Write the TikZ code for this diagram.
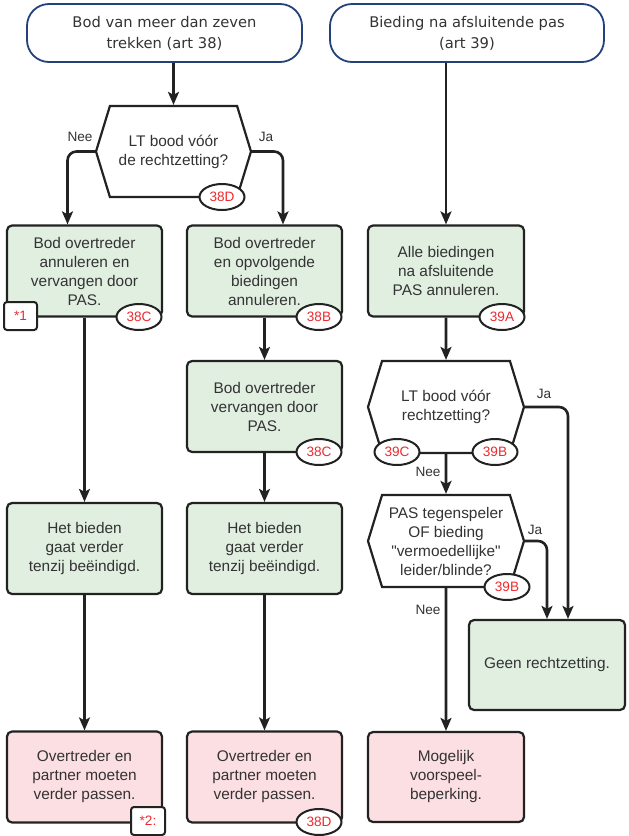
\documentclass[tikz,border=0pt]{standalone}
\usepackage{fontspec}
\setmainfont{Liberation Sans}
\newfontfamily\termfont{DejaVu Sans}
\usepackage{tikz}
\usetikzlibrary{arrows.meta, shapes.geometric, shapes.symbols, positioning}
\definecolor{framegray}{HTML}{222222}
\definecolor{inkgray}{HTML}{333333}
\definecolor{termblue}{HTML}{23427A}
\definecolor{boxgreen}{HTML}{E1EFE1}
\definecolor{boxpink}{HTML}{FCDFE2}
\definecolor{refred}{HTML}{EE2A2E}

\begin{document}
\begin{tikzpicture}[x=1pt, y=-1pt,
    every node/.style={text=inkgray, align=center},
    txt/.style={font=\fontsize{15.4}{19}\selectfont},
    term/.style={draw=termblue, line width=1.8pt, fill=white, rounded corners=22pt,
        minimum width=275pt, minimum height=58pt, font=\termfont\fontsize{14.7}{21}\selectfont},
    act/.style={txt, draw=framegray, line width=2.2pt, fill=boxgreen, rounded corners=5pt,
        minimum width=155pt, minimum height=91pt, inner sep=0pt},
    stop/.style={act, fill=boxpink},
    ask/.style={txt, shape=signal, signal to=east and west, signal pointer angle=146,
        draw=framegray, line width=2.2pt, fill=white, minimum width=155pt, minimum height=91pt, inner sep=0pt},
    ref/.style={ellipse, draw=framegray, line width=2pt, fill=white, text=refred,
        minimum width=45pt, minimum height=26pt, inner sep=0pt, font=\fontsize{13.6}{16}\selectfont},
    note/.style={ref, rectangle, rounded corners=3pt, minimum width=33pt, minimum height=28pt},
    lbl/.style={font=\fontsize{13.6}{16}\selectfont},
    arr/.style={draw=framegray, line width=2.6pt, rounded corners=9pt,
        -{Stealth[length=13pt,width=11pt,inset=3pt]}},
]
\useasboundingbox (0,0) rectangle (629,836);

% start boxes
\node[term] (t1) at (164.5,33) {Bod van meer dan zeven\\trekken (art 38)};
\node[term, minimum width=274pt] (t2) at (467,33) {Bieding na afsluitende pas\\(art 39)};

% art 38
\node[ask] (q1) at (173.5,151.5) {LT bood vóór\\de rechtzetting?};
\node[act] (b1) at (84.5,271) {Bod overtreder\\annuleren en\\vervangen door\\PAS.};
\node[act] (b2) at (264.5,271) {Bod overtreder\\en opvolgende\\biedingen\\annuleren.};
\node[act] (b3) at (264.5,406.5) {Bod overtreder\\vervangen door\\PAS.};
\node[act] (b4) at (84.5,548.5) {Het bieden\\gaat verder\\tenzij beëindigd.};
\node[act] (b5) at (264.5,548.5) {Het bieden\\gaat verder\\tenzij beëindigd.};
\node[stop] (p1) at (84.5,777) {Overtreder en\\partner moeten\\verder passen.};
\node[stop] (p2) at (264.5,777) {Overtreder en\\partner moeten\\verder passen.};

% art 39
\node[act, minimum width=156pt] (a1) at (446,271) {Alle biedingen\\na afsluitende\\PAS annuleren.};
\node[ask, minimum width=156pt, minimum height=92pt] (q2) at (446,407) {LT bood vóór\\rechtzetting?};
\node[ask, minimum width=156pt, minimum height=92pt] (q3) at (446,541) {PAS tegenspeler\\OF bieding\\\textquotedbl vermoedellijke\textquotedbl\\leider/blinde?};
\node[act, minimum width=156pt, minimum height=90pt] (g1) at (547,665) {Geen rechtzetting.};
\node[stop, minimum width=156pt, minimum height=90pt] (p3) at (446,777) {Mogelijk\\voorspeel-\\beperking.};

% connectors
\draw[arr] (q1.north |- t1.south) -- (q1.north);
\draw[arr] (q1.west) -| ([xshift=-17pt]b1.north);
\draw[arr] (q1.east) -| ([xshift=18.5pt]b2.north);
\draw[arr] (b1) -- (b4);
\draw[arr] (b2) -- (b3);
\draw[arr] (b3) -- (b5);
\draw[arr] (b4) -- (p1);
\draw[arr] (b5) -- (p2);
\draw[arr] (a1.north |- t2.south) -- (a1.north);
\draw[arr] (a1) -- (q2);
\draw[arr] (q2) -- (q3);
\draw[arr] (q3) -- (p3);
\draw[arr] (q2.east) -| ([xshift=21pt]g1.north);
\draw[arr] (q3.east) -| (g1.north);

% labels
\node[lbl] (n1) at (80,137) {Nee};
\node[lbl] (j1) at (266,137) {Ja};
\node[lbl] (j2) at (544,394) {Ja};
\node[lbl] (n2) at (428,472) {Nee};
\node[lbl] (j3) at (535,530) {Ja};
\node[lbl] (n3) at (428,610) {Nee};

% article references
\node[ref] (r1) at (222,197) {38D};
\node[note] (s1) at (20.5,316) {*1};
\node[ref] (r2) at (139,317) {38C};
\node[ref] (r3) at (319,317) {38B};
\node[ref] (r4) at (319,452) {38C};
\node[note, minimum width=34pt] (s2) at (148,821) {*2:};
\node[ref] (r5) at (319,822) {38D};
\node[ref] (r6) at (502,317) {39A};
\node[ref] (r7) at (397,452) {39C};
\node[ref] (r8) at (495,452) {39B};
\node[ref] (r9) at (507,587) {39B};
\end{tikzpicture}
\end{document}
